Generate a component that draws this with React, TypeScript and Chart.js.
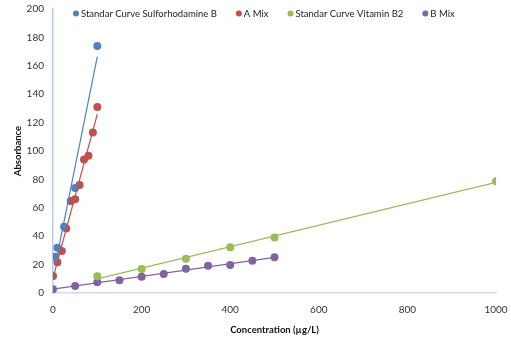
import React, { useEffect, useRef } from "react";
import { Chart, registerables } from "chart.js";

Chart.register(...registerables);

// Data
const sulfoX = [5, 10, 25, 50, 100];
const sulfoY = [25.6, 31.9, 46.7, 74, 174];
const aMixX = [0, 10, 20, 30, 40, 50, 60, 70, 80, 90, 100];
const aMixY = [12, 21.6, 29.6, 45.5, 64.8, 66, 76, 94, 96.7, 113, 131];
const vitX = [100, 200, 300, 400, 500, 1000];
const vitY = [11.8, 16.9, 24.2, 32.2, 39, 78.7];
const bMixX = [0, 50, 100, 150, 200, 250, 300, 350, 400, 450, 500];
const bMixY = [2.6, 4.9, 7.5, 8.9, 11.5, 13.4, 17.1, 19.2, 19.7, 22.7, 25.1];

// Linear trendline end points
const sulfoTrendX = [5, 100];
const sulfoTrendY = [19.4, 166.4];
const aMixTrendX = [0, 100];
const aMixTrendY = [10.5, 126];
const vitTrendX = [100, 1000];
const vitTrendY = [9.9, 77.9];
const bMixTrendX = [0, 500];
const bMixTrendY = [2.7, 25.1];

const labels = ["Standar Curve Sulforhodamine B", "A Mix", "Standar Curve Vitamin B2", "B Mix"];
const colors = ["#4F81BD", "#C0504D", "#9BBB59", "#8064A2"];

const xTicks = [0, 200, 400, 600, 800, 1000];
const yTicks = [0, 20, 40, 60, 80, 100, 120, 140, 160, 180, 200];

const FONT = "Lato, 'Open Sans', sans-serif";

const zip = (xs: number[], ys: number[]) => xs.map((x, i) => ({ x, y: ys[i] }));

const legendPlugin = {
  id: "insideLegend",
  afterDraw(chart: any) {
    const ctx = chart.ctx;
    const area = chart.chartArea;
    ctx.save();
    ctx.font = `9.5px ${FONT}`;
    ctx.textBaseline = "middle";
    ctx.textAlign = "left";
    let x = area.left + 23;
    const y = 13.5;
    labels.forEach((lab, i) => {
      ctx.beginPath();
      ctx.fillStyle = colors[i];
      ctx.arc(x, y, 3, 0, Math.PI * 2);
      ctx.fill();
      ctx.fillStyle = "#222";
      ctx.fillText(lab, x + 5, y);
      const w = ctx.measureText(lab).width;
      x = x + 5 + w + 22;
    });
    ctx.restore();
  },
};

export default function App() {
  const ref = useRef<HTMLCanvasElement | null>(null);

  useEffect(() => {
    document.body.style.margin = "0";
    if (!ref.current) return;
    const pointSets = [
      zip(sulfoX, sulfoY),
      zip(aMixX, aMixY),
      zip(vitX, vitY),
      zip(bMixX, bMixY),
    ];
    const trendSets = [
      zip(sulfoTrendX, sulfoTrendY),
      zip(aMixTrendX, aMixTrendY),
      zip(vitTrendX, vitTrendY),
      zip(bMixTrendX, bMixTrendY),
    ];
    const datasets: any[] = [];
    trendSets.forEach((d, i) => {
      datasets.push({
        label: labels[i] + " trend",
        data: d,
        showLine: true,
        borderColor: colors[i],
        borderWidth: 1.2,
        pointRadius: 0,
        fill: false,
      });
    });
    pointSets.forEach((d, i) => {
      datasets.push({
        label: labels[i],
        data: d,
        showLine: false,
        backgroundColor: colors[i],
        borderColor: colors[i],
        pointRadius: 4,
        pointBorderWidth: 0,
      });
    });

    const chart = new Chart(ref.current, {
      type: "scatter",
      data: { datasets },
      plugins: [legendPlugin],
      options: {
        animation: false,
        responsive: true,
        maintainAspectRatio: false,
        layout: { padding: { top: 0, right: 0, bottom: 2, left: 6 } },
        plugins: {
          legend: { display: false },
          tooltip: { enabled: false },
        },
        scales: {
          x: {
            type: "linear",
            min: 0,
            max: 1000,
            afterBuildTicks: (scale: any) => {
              scale.ticks = xTicks.map((v) => ({ value: v }));
            },
            afterFit: (scale: any) => {
              scale.height = 46;
              scale.paddingLeft = 0;
              scale.paddingRight = 15;
            },
            grid: { display: false, drawTicks: false },
            border: { display: true, color: "#D0DCEC", width: 1.5 },
            ticks: {
              color: "#333",
              font: { family: FONT, size: 10 },
              padding: 11,
              callback: (v: any) => String(v),
            },
            title: {
              display: true,
              text: "Concentration (µg/L)",
              color: "#111",
              font: { family: FONT, size: 9.5, weight: "bold" },
              padding: { top: 0, bottom: 3 },
            },
          },
          y: {
            type: "linear",
            min: 0,
            max: 200,
            afterBuildTicks: (scale: any) => {
              scale.ticks = yTicks.map((v) => ({ value: v }));
            },
            afterFit: (scale: any) => {
              scale.width = 47;
              scale.paddingTop = 9;
              scale.paddingBottom = 0;
            },
            grid: { display: false, drawTicks: false },
            border: { display: true, color: "#B7CDE8", width: 1.5 },
            ticks: {
              color: "#333",
              font: { family: FONT, size: 10 },
              padding: 9,
              callback: (v: any) => String(v),
            },
            title: {
              display: true,
              text: "Absorbance",
              color: "#111",
              font: { family: FONT, size: 9.5, weight: "bold" },
              padding: { top: 6, bottom: 0 },
            },
          },
        },
      },
    });
    return () => chart.destroy();
  }, []);

  return (
    <div style={{ position: "fixed", left: 0, top: 0, width: 511, height: 341, background: "#fff" }}>
      <canvas ref={ref} />
    </div>
  );
}
